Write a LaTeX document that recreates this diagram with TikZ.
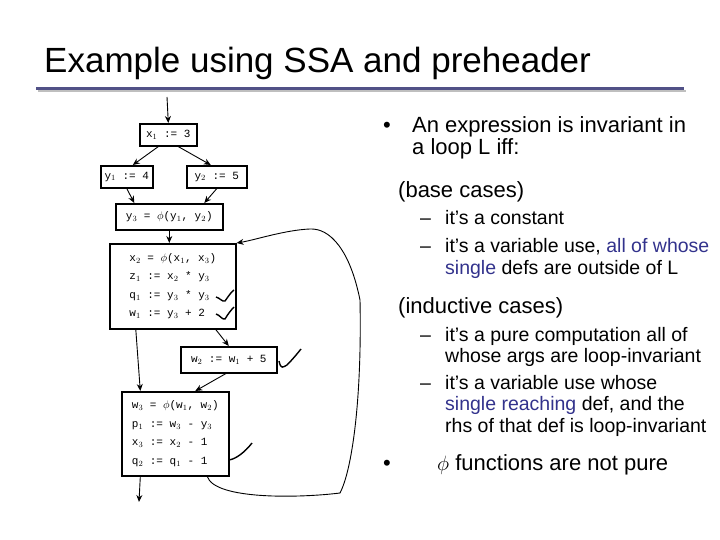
\documentclass[tikz,border=0pt]{standalone}
\usepackage{fontspec}
\setmainfont{Liberation Sans}
\newfontfamily\codefont{Liberation Mono}
\usetikzlibrary{arrows.meta}
\definecolor{kw}{RGB}{50,50,140}
\begin{document}
\begin{tikzpicture}[x=1pt,y=-1pt,
  blk/.style={draw,line width=1.6pt,font=\codefont\fontsize{11}{12}\selectfont,inner sep=3pt,align=left,anchor=north west},
  edge/.style={-{Stealth[length=7pt,width=6pt]},line width=0.9pt},
  t/.style={anchor=base west,inner sep=0pt,font=\fontsize{22}{22}\selectfont},
  s/.style={anchor=base west,inner sep=0pt,font=\fontsize{19.5}{21.5}\selectfont},
  chk/.style={line width=1.4pt}]
\useasboundingbox (0,0) rectangle (720,540);
\node[anchor=base west,inner sep=0pt,font=\fontsize{35}{40}\selectfont] (title) at (44,73) {Example using SSA and preheader};
\fill[gray!50] (38,90) rectangle (686,92);
\fill[kw!60!gray] (36,87) rectangle (684,90);
% blocks
\node[blk,minimum width=57pt,minimum height=22pt] (b1) at (139,123) {x$_1$ := 3};
\node[blk,minimum width=52pt,minimum height=22pt] (b2) at (100,165) {y$_1$ := 4};
\node[blk,minimum width=60pt,minimum height=22pt] (b3) at (186,165) {y$_2$ := 5};
\node[blk,minimum width=107pt,minimum height=26pt] (b4) at (115,203) {y$_3$ = $\phi$(y$_1$, y$_2$)};
\node[blk,minimum width=126pt,minimum height=85pt,inner sep=5pt,font=\codefont\fontsize{11}{18.5}\selectfont] (b5) at (109,243) {x$_2$ = $\phi$(x$_1$, x$_3$)\\z$_1$ := x$_2$ * y$_3$\\q$_1$ := y$_3$ * y$_3$\\w$_1$ := y$_3$ + 2};
\node[blk,minimum width=96pt,minimum height=26pt] (b6) at (180,346) {w$_2$ := w$_1$ + 5};
\node[blk,minimum width=107pt,minimum height=84pt,inner sep=5pt,font=\codefont\fontsize{11}{18.5}\selectfont] (b7) at (121,391) {w$_3$ = $\phi$(w$_1$, w$_2$)\\p$_1$ := w$_3$ - y$_3$\\x$_3$ := x$_2$ - 1\\q$_2$ := q$_1$ - 1};
\coordinate (in) at (167,97);
\coordinate (out) at (139,502);
\draw[edge] (in) -- (b1.north);
\draw[edge] ([xshift=-10pt]b1.south) -- ([xshift=6pt]b2.north);
\draw[edge] ([xshift=10pt]b1.south) -- ([xshift=-6pt]b3.north);
\draw[edge] (b2.south) -- ([xshift=-35pt]b4.north);
\draw[edge] (b3.south) -- ([xshift=35pt]b4.north);
\draw[edge] (b4.south) -- (b5.north-|b4.south);
\draw[edge] ([xshift=-37pt]b5.south) -- ([xshift=-35pt]b7.north);
\draw[edge] ([xshift=43pt]b5.south) -- (b6.north);
\draw[edge] ([xshift=-3pt]b6.south) -- ([xshift=20pt]b7.north);
\draw[edge] ([xshift=-35pt]b7.south) -- (out);
\draw[edge] ([xshift=32pt]b7.south) .. controls (215,500) and (300,498) .. (340,493)
  .. controls (352,470) and (362,400) .. (360,300)
  .. controls (350,250) and (330,228) .. (310,229)
  .. controls (285,230) and (255,240) .. (b5.north east);
% checks
\draw[chk] (216,297) .. controls (220,298) and (222,302) .. (225,301) .. controls (228,297) and (231,292) .. (234,290);
\draw[chk] (216,314) .. controls (220,315) and (222,320) .. (225,319) .. controls (228,314) and (231,310) .. (234,307);
\draw[chk] (279,361) .. controls (281,370) and (283,367) .. (287,365) .. controls (292,360) and (297,354) .. (301,349);
\draw[chk] (229,460) .. controls (236,459) and (245,452) .. (252,443);
% right text
\node[t] (p1a) at (383,133) {•};
\node[t] (p1) at (412,133) {An expression is invariant in};
\node[t] (p1b) at (412,155) {a loop L iff:};
\node[t] (p2) at (398,197) {(base cases)};
\node[s] (d3) at (420,225) {–};
\node[s] (p3) at (445,225) {it’s a constant};
\node[s] (d4) at (420,252) {–};
\node[s] (p4) at (445,252) {it’s a variable use, \textcolor{kw}{all of whose}};
\node[s] (p4b) at (445,274) {\textcolor{kw}{single} defs are outside of L};
\node[t] (p5) at (398,313) {(inductive cases)};
\node[s] (d6) at (420,341) {–};
\node[s] (p6) at (445,341) {it’s a pure computation all of};
\node[s] (p6b) at (445,362) {whose args are loop-invariant};
\node[s] (d8) at (420,389) {–};
\node[s] (p8) at (445,389) {it’s a variable use whose};
\node[s] (p8b) at (445,410) {\textcolor{kw}{single reaching} def, and the};
\node[s] (p8c) at (445,432) {rhs of that def is loop-invariant};
\node[t] (p7a) at (383,470) {•};
\node[t] (p7) at (437,470) {$\phi$ functions are not pure};
\end{tikzpicture}
\end{document}
